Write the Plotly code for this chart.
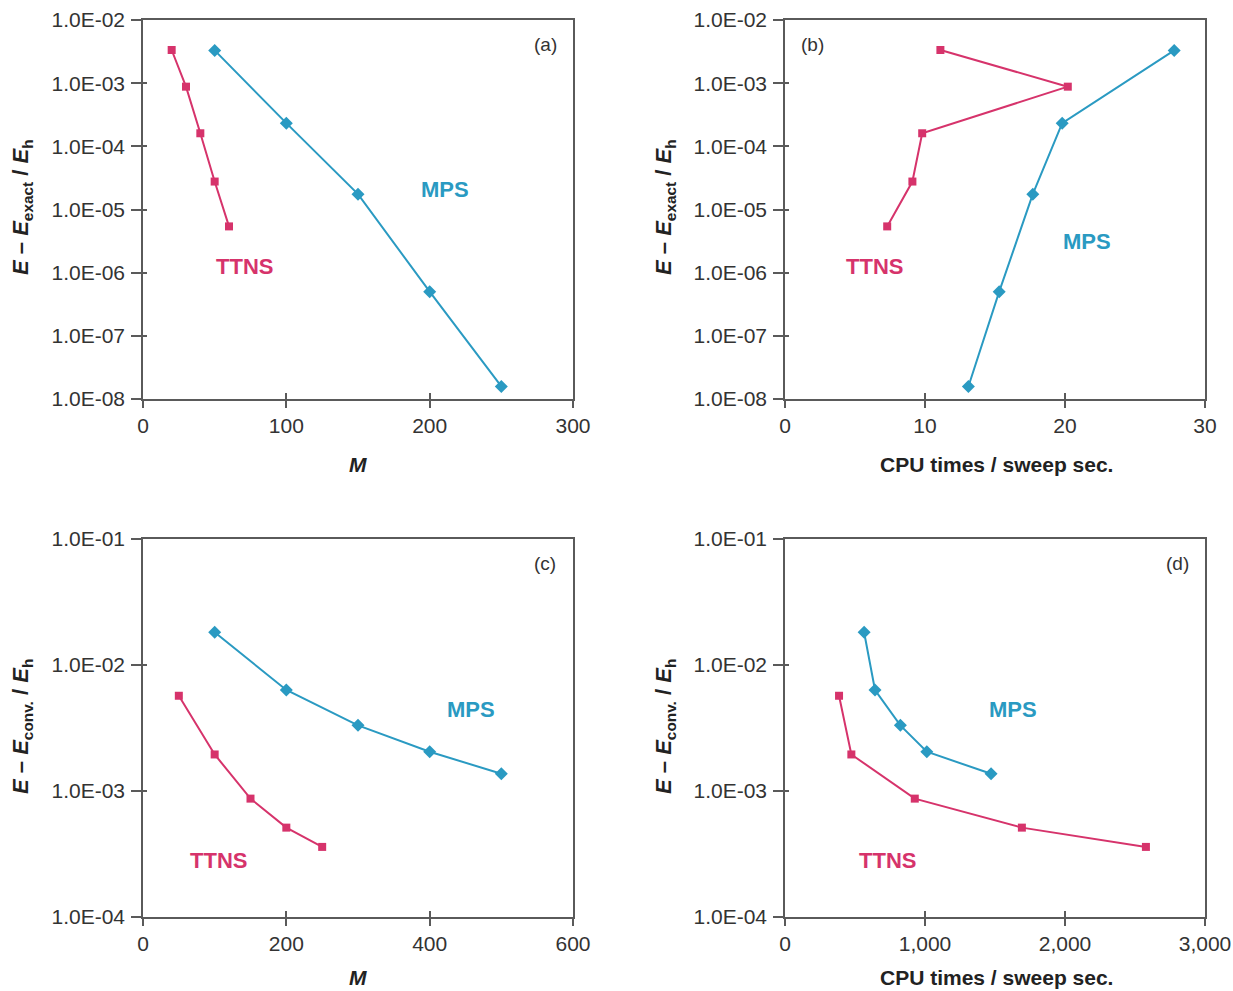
import plotly.graph_objects as go

# Convergence of energy error for TTNS and MPS
# (a) error vs exact energy against bond dimension M
m_ttns_a = [20, 30, 40, 50, 60]
err_ttns_a = [3.35e-3, 8.8e-4, 1.61e-4, 2.77e-5, 5.4e-6]
m_mps_a = [50, 100, 150, 200, 250]
err_mps_a = [3.3e-3, 2.33e-4, 1.75e-5, 5.0e-7, 1.58e-8]

# (b) same errors against CPU time per sweep (sec.)
cpu_ttns_b = [11.1, 20.2, 9.8, 9.1, 7.3]
cpu_mps_b = [27.8, 19.8, 17.7, 15.3, 13.1]

# (c) error vs converged energy against M
m_ttns_c = [50, 100, 150, 200, 250]
err_ttns_c = [5.7e-3, 1.95e-3, 8.7e-4, 5.12e-4, 3.6e-4]
m_mps_c = [100, 200, 300, 400, 500]
err_mps_c = [1.82e-2, 6.33e-3, 3.32e-3, 2.05e-3, 1.37e-3]

# (d) same errors against CPU time per sweep (sec.)
cpu_ttns_d = [386, 474, 927, 1692, 2578]
cpu_mps_d = [565, 643, 824, 1013, 1472]

ytick_top = [1e-2, 1e-3, 1e-4, 1e-5, 1e-6, 1e-7, 1e-8]
ytick_top_text = ["1.0E-02", "1.0E-03", "1.0E-04", "1.0E-05", "1.0E-06", "1.0E-07", "1.0E-08"]
ytick_bot = [1e-1, 1e-2, 1e-3, 1e-4]
ytick_bot_text = ["1.0E-01", "1.0E-02", "1.0E-03", "1.0E-04"]

PINK = "#D6336B"
CYAN = "#2A9AC2"
AXIS = "#5a5a5a"
FONT = "Liberation Sans, Arial, sans-serif"

W, H = 1233, 991
fig = go.Figure()

def px_x(p):
    return p / W

def px_y(p):
    return 1 - p / H

# axis domains (pixels: left, right, top, bottom)
panels = {
    "a": (143, 573, 20, 399),
    "b": (785, 1205, 20, 399),
    "c": (143, 573, 539, 917),
    "d": (785, 1205, 539, 917),
}
axis_ids = {"a": ("x", "y"), "b": ("x2", "y2"), "c": ("x3", "y3"), "d": ("x4", "y4")}
# companion axes that draw the inner half of the crossing tick marks
inner_ids = {"a": ("x5", "y5"), "b": ("x6", "y6"), "c": ("x7", "y7"), "d": ("x8", "y8")}

def add_series(key, xs, ys, color, symbol, size):
    xa, ya = axis_ids[key]
    fig.add_trace(go.Scatter(
        x=xs, y=ys, mode="lines+markers", xaxis=xa, yaxis=ya,
        line=dict(color=color, width=2),
        marker=dict(color=color, symbol=symbol, size=size),
        showlegend=False, hoverinfo="skip",
    ))

add_series("a", m_ttns_a, err_ttns_a, PINK, "square", 8)
add_series("a", m_mps_a, err_mps_a, CYAN, "diamond", 10)
add_series("b", cpu_ttns_b, err_ttns_a, PINK, "square", 8)
add_series("b", cpu_mps_b, err_mps_a, CYAN, "diamond", 10)
add_series("c", m_ttns_c, err_ttns_c, PINK, "square", 8)
add_series("c", m_mps_c, err_mps_c, CYAN, "diamond", 10)
add_series("d", cpu_ttns_d, err_ttns_c, PINK, "square", 8)
add_series("d", cpu_mps_d, err_mps_c, CYAN, "diamond", 10)

# empty traces so the companion tick axes are rendered
for key, (xa, ya) in inner_ids.items():
    fig.add_trace(go.Scatter(x=[None], y=[None], xaxis=xa, yaxis=ya,
                             mode="markers", showlegend=False, hoverinfo="skip"))

xranges = {"a": [0, 300], "b": [0, 30], "c": [0, 600], "d": [0, 3000]}
xdticks = {"a": 100, "b": 10, "c": 200, "d": 1000}
yranges = {"a": [-8, -2], "b": [-8, -2], "c": [-4, -1], "d": [-4, -1]}

layout = dict(
    width=W, height=H,
    margin=dict(l=0, r=0, t=0, b=0, autoexpand=False),
    paper_bgcolor="white", plot_bgcolor="white",
    font=dict(family=FONT, size=21, color="#333333"),
)

for key, (l, r, t, b) in panels.items():
    xa, ya = axis_ids[key]
    xi, yi = inner_ids[key]
    top = key in ("a", "b")
    yt = ytick_top if top else ytick_bot
    ytt = ytick_top_text if top else ytick_bot_text
    layout["xaxis" + xa[1:]] = dict(
        domain=[px_x(l), px_x(r)], anchor=ya, range=xranges[key],
        dtick=xdticks[key], tick0=0, tickformat=",", automargin=False,
        showline=True, linecolor=AXIS, linewidth=1.5, mirror=True,
        ticks="outside", ticklen=7, tickcolor=AXIS, tickwidth=1.5,
        showgrid=False, zeroline=False, ticklabelstandoff=0,
        tickfont=dict(size=21, color="#333333"),
    )
    layout["yaxis" + ya[1:]] = dict(
        domain=[px_y(b), px_y(t)], anchor=xa, type="log", range=yranges[key],
        tickvals=yt, ticktext=ytt, automargin=False,
        showline=True, linecolor=AXIS, linewidth=1.5, mirror=True,
        ticks="outside", ticklen=10, tickcolor=AXIS, tickwidth=1.5,
        showgrid=False, zeroline=False, ticklabelstandoff=2,
        tickfont=dict(size=21, color="#333333"),
    )
    layout["xaxis" + xi[1:]] = dict(
        overlaying=xa, anchor=yi, range=xranges[key], dtick=xdticks[key], tick0=0,
        automargin=False, showline=False, showticklabels=False,
        ticks="inside", ticklen=6, tickcolor=AXIS, tickwidth=1.5,
        showgrid=False, zeroline=False,
    )
    layout["yaxis" + yi[1:]] = dict(
        overlaying=ya, anchor=xi, type="log", range=yranges[key],
        tickvals=yt, automargin=False, showline=False, showticklabels=False,
        ticks="inside", ticklen=4, tickcolor=AXIS, tickwidth=1.5,
        showgrid=False, zeroline=False,
    )

fig.update_layout(**layout)

annotations = []

# panel tags: (b) sits top-left, the others top-right
tag_pos = {"a": 0.935, "b": 0.065, "c": 0.935, "d": 0.935}
for key in panels:
    xa, ya = axis_ids[key]
    annotations.append(dict(
        text="(%s)" % key, xref=xa + " domain", yref=ya + " domain",
        x=tag_pos[key], y=0.935, showarrow=False, font=dict(size=19, color="#333333"),
        xanchor="center", yanchor="middle",
    ))

# series labels placed in data space
series_labels = [
    ("x", "y", 211, -4.69, "MPS", CYAN),
    ("x", "y", 71, -5.91, "TTNS", PINK),
    ("x2", "y2", 21.6, -5.5, "MPS", CYAN),
    ("x2", "y2", 6.4, -5.91, "TTNS", PINK),
    ("x3", "y3", 457, -2.35, "MPS", CYAN),
    ("x3", "y3", 106, -3.55, "TTNS", PINK),
    ("x4", "y4", 1630, -2.35, "MPS", CYAN),
    ("x4", "y4", 729, -3.55, "TTNS", PINK),
]
for xa, ya, xv, yv, txt, col in series_labels:
    annotations.append(dict(
        text="<b>%s</b>" % txt, xref=xa, yref=ya, x=xv, y=yv,
        showarrow=False, font=dict(size=22, color=col),
        xanchor="center", yanchor="middle",
    ))

# axis titles
title_exact = "<b><i>E</i> – <i>E</i><sub>exact</sub> / <i>E</i><sub>h</sub></b>"
title_conv = "<b><i>E</i> – <i>E</i><sub>conv.</sub> / <i>E</i><sub>h</sub></b>"
title_m = "<b><i>M</i></b>"
title_cpu = "<b>CPU times / sweep sec.</b>"

ytitles = [
    (22, 207, title_exact),
    (665, 207, title_exact),
    (22, 727, title_conv),
    (665, 727, title_conv),
]
for xp, yp, txt in ytitles:
    annotations.append(dict(
        text=txt, xref="paper", yref="paper", x=px_x(xp), y=px_y(yp),
        showarrow=False, textangle=-90, font=dict(size=22, color="#222222"),
        xanchor="center", yanchor="middle",
    ))

xtitles = [
    (358, 464, title_m),
    (996, 464, title_cpu),
    (358, 977, title_m),
    (996, 977, title_cpu),
]
for xp, yp, txt in xtitles:
    annotations.append(dict(
        text=txt, xref="paper", yref="paper", x=px_x(xp), y=px_y(yp),
        showarrow=False, font=dict(size=21, color="#222222"),
        xanchor="center", yanchor="middle",
    ))

fig.update_layout(annotations=annotations)

fig.write_html("out.html")
